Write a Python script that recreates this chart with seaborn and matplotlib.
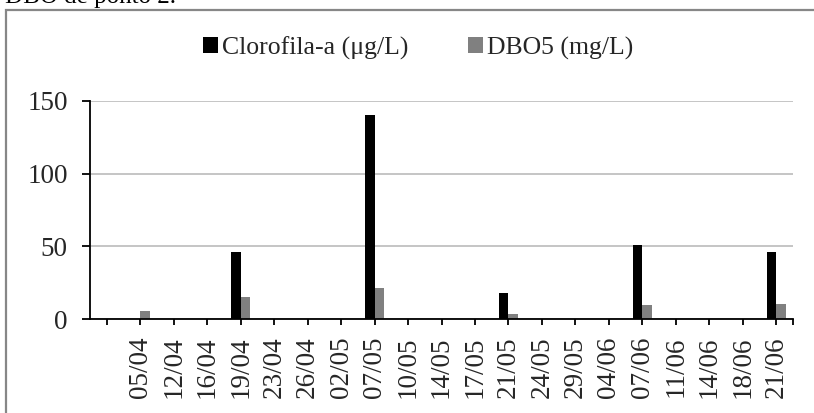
import matplotlib
matplotlib.use("Agg")
import matplotlib.pyplot as plt
from matplotlib.patches import Patch, Rectangle
import pandas as pd
import seaborn as sns

# Sampling dates (first slot left blank on the category axis)
dates = ["", "05/04", "12/04", "16/04", "19/04", "23/04", "26/04", "02/05",
         "07/05", "10/05", "14/05", "17/05", "21/05", "24/05", "29/05",
         "04/06", "07/06", "11/06", "14/06", "18/06", "21/06"]
clorofila = [None, None, None, None, 46.4, None, None, None, 140.0, None, None,
             None, 17.8, None, None, None, 51.2, None, None, None, 46.0]
dbo5 = [None, 5.7, None, None, 15.3, None, None, None, 21.7, None, None,
        None, 3.4, None, None, None, 9.6, None, None, None, 10.7]
series = ["Clorofila-a (μg/L)", "DBO5 (mg/L)"]
colors = ["#000000", "#808080"]
yticks = [0, 50, 100, 150]

df = pd.DataFrame({
    "data": dates * 2,
    "serie": [series[0]] * len(dates) + [series[1]] * len(dates),
    "valor": clorofila + dbo5,
})

sns.set_theme(style="white")
plt.rcParams["font.family"] = ["Liberation Serif", "DejaVu Serif"]

fig = plt.figure(figsize=(8.14, 4.13), dpi=100)
ax = fig.add_axes([90 / 814, 1 - 319.3 / 413, (793 - 90) / 814, (319.3 - 100.7) / 413])

sns.barplot(data=df, x="data", y="valor", hue="serie", order=dates,
            hue_order=series, palette=colors, width=0.56, gap=0,
            linewidth=0, saturation=1, ax=ax, legend=False)

ax.set_xlim(-0.5, len(dates) - 0.5)
ax.set_ylim(0, 150)
ax.set_yticks(yticks)
ax.set_yticklabels([str(v) for v in yticks], fontsize=19.5)
ax.set_xticks(range(len(dates)))
ax.set_xticklabels(dates, rotation=90, fontsize=19.5)
ax.set_xticks([len(dates) - 0.5], minor=True)
ax.set_xlabel("")
ax.set_ylabel("")

ax.grid(axis="y", color="#c0c0c0", linewidth=1.3)
ax.set_axisbelow(True)
for side in ("top", "right"):
    ax.spines[side].set_visible(False)
for side in ("left", "bottom"):
    ax.spines[side].set_color("black")
    ax.spines[side].set_linewidth(1.3)

ax.tick_params(axis="y", which="major", direction="out", length=6, width=1.3,
               color="black", pad=10, left=True)
ax.tick_params(axis="x", which="both", direction="out", length=4.5, width=1.3,
               color="black", pad=8, bottom=True)

handles = [Patch(facecolor=c, edgecolor="none", label=s) for c, s in zip(colors, series)]
fig.legend(handles=handles, loc="center", bbox_to_anchor=(418 / 814, 1 - 48 / 413),
           ncol=2, frameon=False, fontsize=18.5, handlelength=0.6, handleheight=0.6,
           handletextpad=0.15, columnspacing=2.3)

# Outer chart frame
fig.patches.append(Rectangle((6 / 814, -0.2), 1.2, 1 - 10 / 413 + 0.2,
                             transform=fig.transFigure, fill=False,
                             edgecolor="#878787", linewidth=1.6))

# Caption line running above the frame
fig.text(5 / 814, 1 - 3 / 413, "DBO de ponto 2.", fontsize=18, ha="left",
         va="baseline", color="black")

fig.savefig("out.png", dpi=100)
